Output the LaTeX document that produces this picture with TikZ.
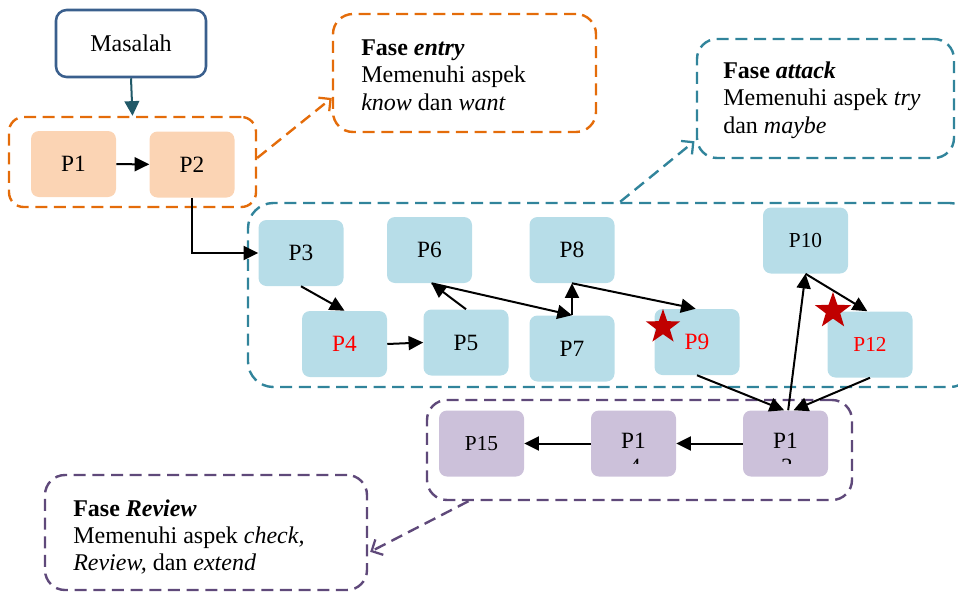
\documentclass[tikz,border=0pt]{standalone}
\usepackage{fontspec}
\setmainfont{Liberation Serif}
\usetikzlibrary{shapes.geometric,arrows.meta}

\definecolor{entryline}{HTML}{E46C0A}
\definecolor{attackline}{HTML}{31849B}
\definecolor{reviewline}{HTML}{5F497A}
\definecolor{entryfill}{HTML}{FBD4B4}
\definecolor{attackfill}{HTML}{B7DDE8}
\definecolor{reviewfill}{HTML}{CCC1DA}
\definecolor{problemline}{HTML}{3A5F8D}
\definecolor{problemarrow}{HTML}{215968}
\definecolor{starred}{HTML}{C00000}
\definecolor{hotred}{HTML}{FF0000}

\begin{document}
\begin{tikzpicture}[x=0.75pt,y=-0.75pt,
  stepbox/.style={rectangle, rounded corners=6pt, minimum width=63.75pt,
    minimum height=49.5pt, inner sep=0pt, font=\fontsize{17.5}{20}\selectfont},
  twodigit/.style={font=\fontsize{16}{19}\selectfont},
  entrystep/.style={stepbox, fill=entryfill},
  attackstep/.style={stepbox, fill=attackfill},
  reviewstep/.style={stepbox, fill=reviewfill},
  hot/.style={text=hotred},
  phase/.style={rectangle, line width=1.8pt, dash pattern=on 9pt off 5pt, inner sep=0pt},
  notebox/.style={phase, rounded corners=15pt},
  notetext/.style={anchor=west, align=left, inner sep=0pt,
    font=\fontsize{18}{20.5}\selectfont},
  flow/.style={line width=1.5pt, -{Triangle[length=11pt,width=10.5pt]}},
  pointer/.style={line width=1.8pt, dash pattern=on 9pt off 5pt,
    -{Straight Barb[length=6.5pt,width=13pt,line width=1.7pt]}},
  mark star/.style={star, star points=5, star point ratio=2.5, fill=starred,
    inner sep=0pt}
]
\clip (0,0) rectangle (958,593);

% problem statement
\node[rectangle, draw=problemline, line width=1.9pt, rounded corners=8pt,
  minimum width=112.5pt, minimum height=50.25pt,
  font=\fontsize{18}{20}\selectfont] (masalah) at (131,43.5) {Masalah};

% phase groups
\node[phase, draw=entryline, rounded corners=11pt,
  minimum width=185.25pt, minimum height=67.5pt] (gentry) at (132.5,162) {};
\node[phase, draw=attackline, rounded corners=19pt,
  minimum width=545.25pt, minimum height=138pt] (gattack) at (611.5,295) {};
\node[phase, draw=reviewline, rounded corners=15pt,
  minimum width=318.75pt, minimum height=75pt] (greview) at (639.5,450) {};

% phase notes
\node[notebox, draw=entryline, minimum width=197.25pt, minimum height=88.5pt]
  (entrybox) at (464.5,73) {};
\node[notetext] (entrytxt) at (361,75)
  {\textbf{Fase \textit{entry}}\\Memenuhi aspek\\\textit{know} dan \textit{want}};

\node[notebox, draw=attackline, minimum width=192.75pt, minimum height=89.25pt]
  (attackbox) at (825.5,98.5) {};
\node[notetext] (attacktxt) at (723,100)
  {\textbf{Fase \textit{attack}}\\Memenuhi aspek \textit{try}\\dan \textit{maybe}};

\node[notebox, draw=reviewline, minimum width=241.5pt, minimum height=86.25pt]
  (reviewbox) at (206,532.5) {};
\node[notetext] (reviewtxt) at (73,537)
  {\textbf{Fase \textit{Review}}\\Memenuhi aspek \textit{check,}\\\textit{Review,} dan \textit{extend}};

% steps
\node[entrystep] (P1) at (73.5,164) {P1};
\node[entrystep] (P2) at (192,164.5) {P2};

\node[attackstep] (P3) at (301,253) {P3};
\node[attackstep] (P6) at (429.5,250) {P6};
\node[attackstep] (P8) at (572,250) {P8};
\node[attackstep, twodigit] (P10) at (805.5,240.5) {P10};
\node[attackstep, hot] (P4) at (344.5,344) {P4};
\node[attackstep] (P5) at (466,342.5) {P5};
\node[attackstep] (P7) at (572,348.5) {P7};
\node[attackstep, hot] (P9) at (697,342) {P9};
\node[attackstep, hot, twodigit] (P12) at (870,344.5) {P12};

\node[reviewstep, twodigit] (P15) at (481.5,443.5) {P15};
\node[reviewstep] (P14) at (633.5,443.5) {};
\node[reviewstep] (P13) at (785.5,443.5) {};
\node[font=\fontsize{17.5}{20}\selectfont, inner sep=0pt] (P14a) at (633.5,441) {P1};
\node[font=\fontsize{17.5}{20}\selectfont, inner sep=0pt] (P13a) at (785.5,441) {P1};
\begin{scope}
  \clip (600,455) rectangle (830,463);
  \node[font=\fontsize{17.5}{20}\selectfont, inner sep=0pt] (P14b) at (635,467) {4};
  \node[font=\fontsize{17.5}{20}\selectfont, inner sep=0pt] (P13b) at (787,467) {3};
\end{scope}

% key steps
\node[mark star, minimum size=27pt] (s9) at (663,327) {};
\node[mark star, minimum size=28.5pt] (s12) at (833,311) {};

% connectors
\draw[problemarrow, line width=1.5pt, -{Triangle[length=11pt,width=11pt]}]
  (masalah.south) -- (gentry.north);
\draw[flow] (P1) -- (P2);
\draw[flow] (P2.south) |- (P3.west);
\draw[flow] (P3.south) -- (P4.north);
\draw[flow] (P4.east) -- (P5.west);
\draw[flow] (P5.north) -- ([xshift=1.5pt]P6.south);
\draw[flow] ([xshift=1.5pt]P6.south) -- (P7.north);
\draw[flow] (P7.north) -- (P8.south);
\draw[flow] (P8.south) -- ([xshift=-1pt]P9.north);
\draw[flow] (P9.south) -- ([xshift=-1pt]P13.north);
\draw[flow] (P12.south) -- ([xshift=6pt]P13.north);
\draw[flow] ([xshift=2pt]P13.north) -- (P10.south);
\draw[flow] (P10.south) -- ([xshift=-2pt]P12.north);
\draw[flow] (P13.west) -- (P14.east);
\draw[flow] (P14.west) -- (P15.east);

% phase pointers
\draw[pointer, entryline] ([yshift=3pt]gentry.east) -- ([yshift=-18.75pt]entrybox.west);
\draw[pointer, attackline] ([xshift=6.5pt]gattack.north) -- ([xshift=-1pt,yshift=13.5pt]attackbox.south west);
\draw[pointer, reviewline] ([xshift=32pt]greview.south west) -- ([xshift=1.5pt,yshift=-14.5pt]reviewbox.east);
\end{tikzpicture}
\end{document}
